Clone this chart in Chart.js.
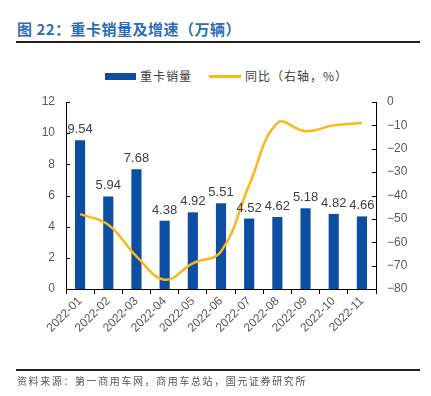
<!DOCTYPE html>
<html><head><meta charset="utf-8">
<script src="https://cdn.jsdelivr.net/npm/chart.js@4.4.0/dist/chart.umd.min.js"></script>
<style>
html,body{margin:0;padding:0;background:#fff}
#wrap{position:relative;width:431px;height:396px;overflow:hidden;background:#fff}
#title{position:absolute;left:17px;top:21px;font:bold 15px/16px "Noto Sans CJK SC",sans-serif;color:#2E6DB5;white-space:nowrap;letter-spacing:0.5px}
#tline{position:absolute;left:16px;top:41px;width:404px;height:1.5px;background:#222}
#fline{position:absolute;left:16px;top:369px;width:404px;height:1.5px;background:#222}
#foot{position:absolute;left:17px;top:375px;font:10px/12px "Noto Sans CJK SC",sans-serif;color:#555;white-space:nowrap;letter-spacing:1.6px}
.lg{position:absolute;font:12px/14px "Noto Sans CJK SC",sans-serif;color:#404040;white-space:nowrap;letter-spacing:1px}
#c{position:absolute;left:0;top:0}
</style></head>
<body>
<div id="wrap">
<div id="title">图 22：重卡销量及增速（万辆）</div>
<div id="tline"></div>
<div style="position:absolute;left:105px;top:73px;width:31px;height:7px;background:#0B4EA2"></div>
<div class="lg" style="left:140px;top:69px">重卡销量</div>
<div style="position:absolute;left:209px;top:75px;width:32px;height:2.5px;background:#FDB714"></div>
<div class="lg" style="left:245px;top:69px">同比（右轴，%）</div>
<canvas id="c" width="431" height="396"></canvas>
<div id="fline"></div>
<div id="foot">资料来源：第一商用车网，商用车总站，国元证券研究所</div>
</div>
<script>
const categories = ['2022-01','2022-02','2022-03','2022-04','2022-05','2022-06','2022-07','2022-08','2022-09','2022-10','2022-11'];
const sales = [9.54, 5.94, 7.68, 4.38, 4.92, 5.51, 4.52, 4.62, 5.18, 4.82, 4.66];
const yoy = [-48, -52.5, -66, -76, -69, -64, -35.5, -9, -12.5, -10, -9];
const leftTicks = [0, 2, 4, 6, 8, 10, 12];
const rightTicks = [-80, -70, -60, -50, -40, -30, -20, -10, 0];

const BAR = '#0B4EA2', LINE = '#FDB714', TXT = '#595959';

const innerTicks = {
  id: 'innerTicks',
  afterDraw(chart) {
    const ctx = chart.ctx;
    ctx.save();
    ctx.strokeStyle = '#000';
    ctx.lineWidth = 1;
    ['y', 'y1'].forEach(id => {
      const s = chart.scales[id];
      const x0 = id === 'y' ? s.right : s.left;
      const dir = id === 'y' ? 1 : -1;
      s.ticks.forEach((t, i) => {
        const y = Math.round(s.getPixelForTick(i)) + 0.5;
        ctx.beginPath();
        ctx.moveTo(x0, y);
        ctx.lineTo(x0 + dir * 4, y);
        ctx.stroke();
      });
    });
    ctx.restore();
  }
};

const barLabels = {
  id: 'barLabels',
  afterDatasetsDraw(chart) {
    const ctx = chart.ctx;
    const meta = chart.getDatasetMeta(0);
    ctx.save();
    ctx.font = '13px "Liberation Sans", Arial, sans-serif';
    ctx.fillStyle = '#404040';
    ctx.textAlign = 'center';
    ctx.textBaseline = 'alphabetic';
    meta.data.forEach((el, i) => {
      ctx.fillText(sales[i].toFixed(2), el.x, el.y - 7);
    });
    ctx.restore();
  }
};

new Chart(document.getElementById('c'), {
  data: {
    labels: categories,
    datasets: [
      { type: 'bar', label: '重卡销量', data: sales, backgroundColor: BAR, yAxisID: 'y',
        barPercentage: 0.9, categoryPercentage: 0.4, order: 2 },
      { type: 'line', label: '同比（右轴，%）', data: yoy, borderColor: LINE, borderWidth: 2.5,
        pointRadius: 0, tension: 0.4, fill: false, yAxisID: 'y1', order: 1 }
    ]
  },
  options: {
    responsive: false,
    devicePixelRatio: 1,
    animation: false,
    layout: { padding: { top: 102, left: 0, right: 0, bottom: 0 } },
    plugins: { legend: { display: false }, tooltip: { enabled: false } },
    scales: {
      x: {
        offset: true,
        grid: { display: true, drawOnChartArea: false, drawTicks: true, tickLength: 5, color: '#000', offset: true },
        border: { color: '#000', width: 1 },
        ticks: { minRotation: 45, maxRotation: 45, autoSkip: false, color: TXT, padding: 0,
                 font: { size: 12, family: '"Liberation Sans", Arial, sans-serif' } },
        afterFit(s) { s.height = 107; }
      },
      y: {
        position: 'left', min: 0, max: 12,
        afterBuildTicks(s) { s.ticks = leftTicks.map(v => ({ value: v })); },
        grid: { display: false, drawTicks: false },
        border: { color: '#000', width: 1 },
        ticks: { color: TXT, padding: 11, font: { size: 12, family: '"Liberation Sans", Arial, sans-serif' } },
        afterFit(s) { s.width = 66; }
      },
      y1: {
        position: 'right', min: -80, max: 0,
        afterBuildTicks(s) { s.ticks = rightTicks.map(v => ({ value: v })); },
        grid: { display: false, drawTicks: false },
        border: { color: '#000', width: 1 },
        ticks: { color: TXT, padding: 11, font: { size: 12, family: '"Liberation Sans", Arial, sans-serif' },
                 callback: v => String(v).replace('-', '\u2212') },
        afterFit(s) { s.width = 55; }
      }
    }
  },
  plugins: [innerTicks, barLabels]
});
</script>
</body></html>
